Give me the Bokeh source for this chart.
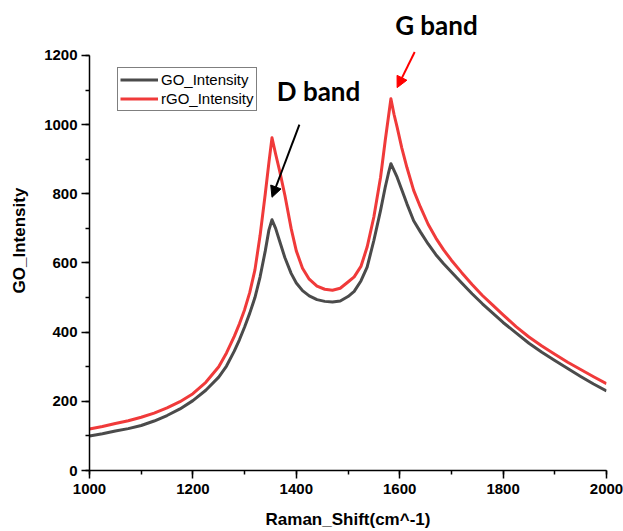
from bokeh.plotting import figure
from bokeh.models import Range1d, SingleIntervalTicker, Legend, LegendItem, Label, Arrow, NormalHead
from bokeh.embed import file_html
from bokeh.resources import INLINE

# Raman shift (cm^-1)
raman_shift = [1000, 1025, 1050, 1075, 1100, 1125, 1150, 1175, 1200, 1225, 1250, 1265,
               1280, 1290, 1300, 1310, 1320, 1330, 1340, 1347, 1353, 1360, 1368, 1378,
               1390, 1400, 1412, 1425, 1440, 1455, 1470, 1485, 1500, 1512, 1525, 1537,
               1550, 1563, 1572, 1578, 1583, 1589, 1595, 1604, 1614, 1627, 1640, 1655,
               1670, 1685, 1700, 1720, 1740, 1760, 1780, 1800, 1825, 1850, 1875, 1900,
               1925, 1950, 1975, 2000]

go_intensity = [100, 106, 114, 121, 130, 143, 159, 178, 202, 232, 270, 302,
                345, 378, 415, 455, 500, 560, 635, 695, 725, 700, 662, 615,
                570, 542, 520, 505, 494, 489, 487, 490, 503, 518, 548, 588,
                665, 752, 819, 858, 887, 868, 848, 812, 771, 722, 690, 655,
                624, 598, 574, 542, 511, 482, 455, 428, 398, 368, 342, 318,
                295, 272, 250, 230]

rgo_intensity = [120, 127, 136, 144, 154, 166, 181, 199, 222, 255, 300, 340,
                 388, 424, 465, 515, 580, 680, 800, 890, 962, 915, 865, 795,
                 700, 635, 585, 553, 533, 524, 521, 527, 545, 560, 590, 646,
                 733, 848, 954, 1020, 1075, 1030, 993, 933, 876, 810, 762, 712,
                 672, 638, 608, 572, 538, 506, 478, 450, 416, 386, 360, 336,
                 313, 292, 271, 251]

series_names = ["GO_Intensity", "rGO_Intensity"]
series_colors = ["#4b4b4b", "#f03a3a"]

p = figure(width=623, height=531, output_backend="svg", toolbar_location=None,
           x_range=Range1d(1000, 2000), y_range=Range1d(0, 1330),
           min_border_left=89, min_border_right=17, min_border_top=10, min_border_bottom=61)
p.outline_line_color = None
p.xgrid.visible = False
p.ygrid.visible = False
p.background_fill_color = "white"
p.border_fill_color = "white"

r_go = p.line(raman_shift, go_intensity, line_color=series_colors[0], line_width=3,
              line_join="round")
r_rgo = p.line(raman_shift, rgo_intensity, line_color=series_colors[1], line_width=3,
               line_join="round")

for ax in (p.xaxis[0], p.yaxis[0]):
    ax.ticker = SingleIntervalTicker(interval=200, num_minor_ticks=2)
    ax.axis_line_color = "black"
    ax.axis_line_width = 1.5
    ax.major_tick_line_color = "black"
    ax.major_tick_line_width = 1.5
    ax.major_tick_out = 8
    ax.major_tick_in = 0
    ax.minor_tick_line_color = "black"
    ax.minor_tick_line_width = 1.5
    ax.minor_tick_out = 4
    ax.minor_tick_in = 0
    ax.major_label_text_font = "Liberation Sans"
    ax.major_label_text_font_style = "bold"
    ax.major_label_text_font_size = "15px"
    ax.major_label_text_color = "black"
    ax.axis_label_text_font = "Liberation Sans"
    ax.axis_label_text_font_style = "bold"
    ax.axis_label_text_font_size = "17px"
    ax.axis_label_text_color = "black"

p.yaxis.bounds = (0, 1200)
p.xaxis.axis_label = "Raman_Shift(cm^-1)"
p.yaxis.axis_label = "GO_Intensity"
p.xaxis.major_label_standoff = 5
p.xaxis.axis_label_standoff = 13
p.yaxis.major_label_standoff = 4
p.yaxis.axis_label_standoff = 12

legend = Legend(items=[LegendItem(label=series_names[0], renderers=[r_go]),
                       LegendItem(label=series_names[1], renderers=[r_rgo])],
                location=(28, 359))
legend.label_text_font = "Liberation Sans"
legend.label_text_font_size = "15px"
legend.label_text_color = "black"
legend.glyph_width = 38
legend.glyph_height = 19
legend.label_height = 19
legend.label_standoff = 3
legend.padding = 2
legend.spacing = 0
legend.margin = 0
legend.border_line_color = "black"
legend.border_line_width = 1
legend.background_fill_alpha = 1
p.add_layout(legend, "center")

p.add_layout(Label(x=1671, y=1287, text="G band", text_font="Lato", text_font_style="bold",
                   text_font_size="26px", text_align="center", text_baseline="middle",
                   text_color="black"))
p.add_layout(Label(x=1443, y=1096, text="D band", text_font="Lato", text_font_style="bold",
                   text_font_size="26px", text_align="center", text_baseline="middle",
                   text_color="black"))

p.add_layout(Arrow(x_start=1629, y_start=1210, x_end=1595, y_end=1107,
                   line_color="#ff0000", line_width=2,
                   end=NormalHead(size=11, fill_color="#ff0000", line_color="#ff0000")))
p.add_layout(Arrow(x_start=1406, y_start=1000, x_end=1353, y_end=790,
                   line_color="black", line_width=2,
                   end=NormalHead(size=11, fill_color="black", line_color="black")))

open("out.html", "w").write(file_html(p, INLINE))
